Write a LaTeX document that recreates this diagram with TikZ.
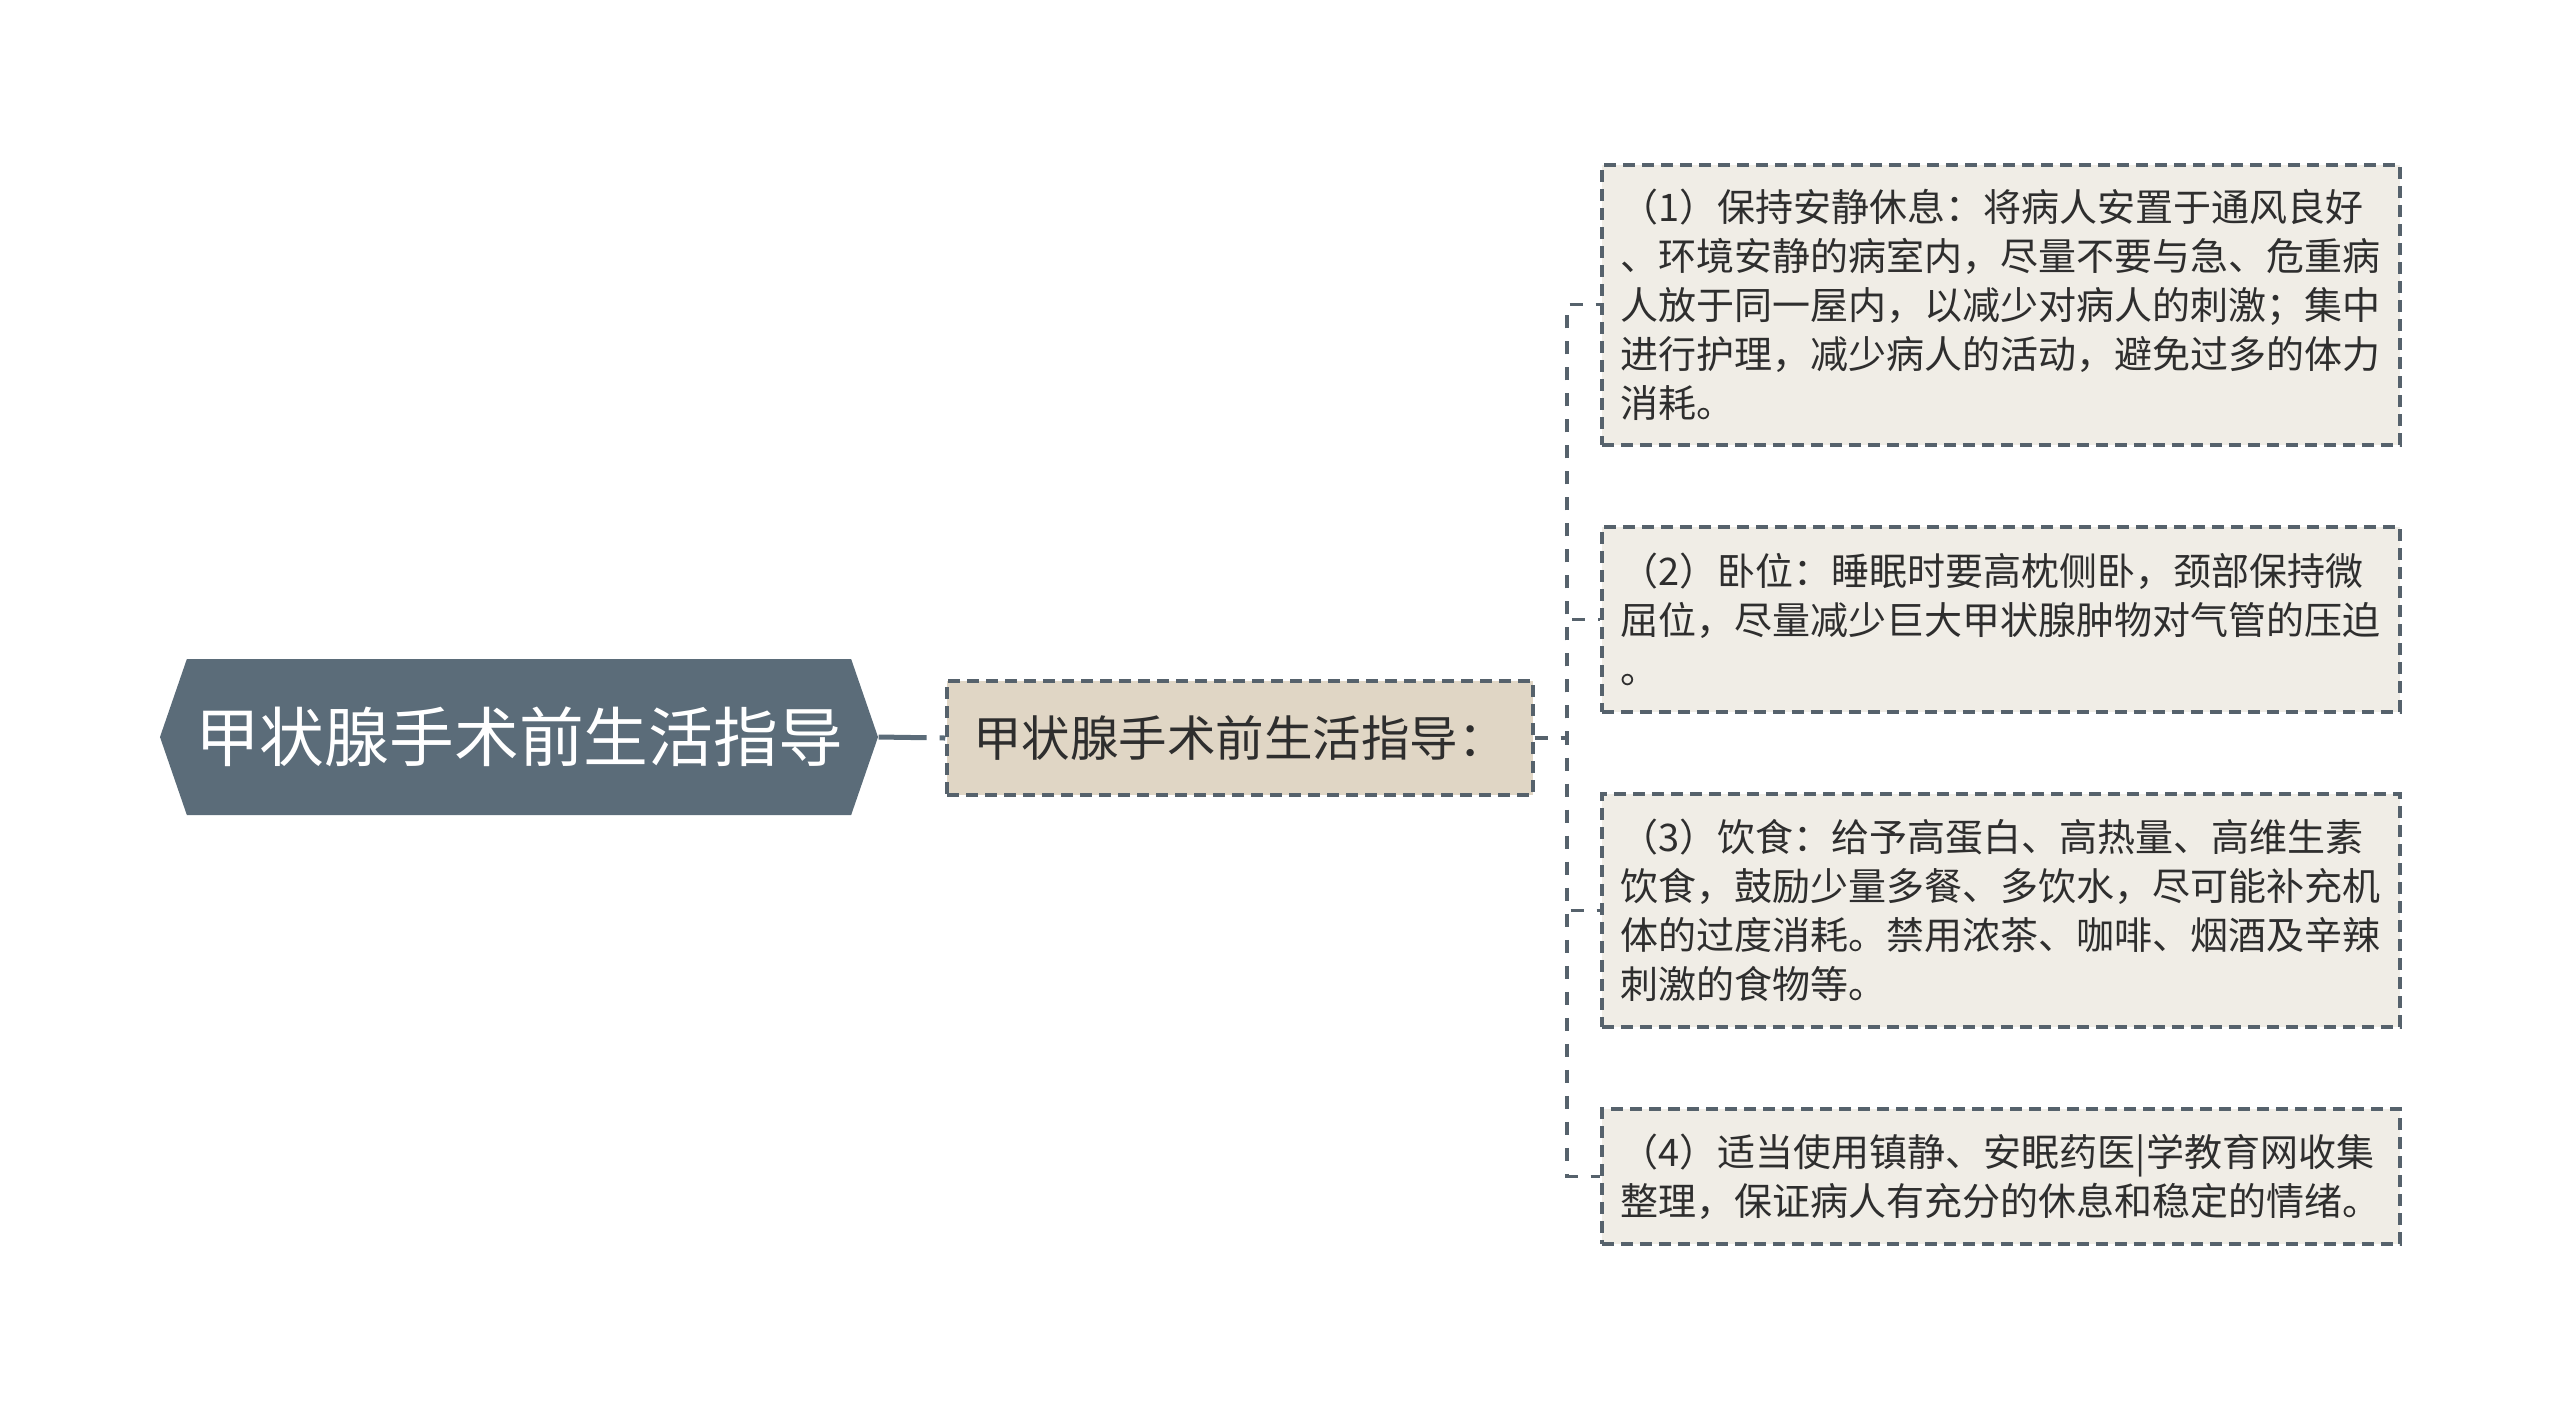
\documentclass[tikz,border=0pt]{standalone}
\usepackage{fontspec}
\setmainfont{Noto Sans CJK SC}
\usetikzlibrary{shapes.symbols}
\usetikzlibrary{positioning}
\definecolor{rootfill}{HTML}{5B6C79}
\definecolor{subfill}{HTML}{E0D6C5}
\definecolor{leaffill}{HTML}{F0EDE6}
\definecolor{edgecol}{HTML}{56626C}
\definecolor{txtcol}{HTML}{2E2E2E}

\begin{document}
\begin{tikzpicture}[x=0.4pt, y=-0.4pt,
    rootbox/.style={signal, signal to=west and east, signal pointer angle=142, fill=rootfill, text=white, minimum width=287.2pt, minimum height=62.4pt, inner sep=0pt, font=\fontsize{25.9pt}{30pt}\selectfont},
    subbox/.style={draw=edgecol, line width=1.4pt, dash pattern=on 4.8pt off 2.8pt, fill=subfill, text=txtcol, minimum width=234.4pt, minimum height=45.6pt, font=\fontsize{19.4pt}{23pt}\selectfont},
    leafbox/.style={draw=edgecol, line width=1.4pt, dash pattern=on 4.8pt off 2.8pt, fill=leaffill, text=txtcol, anchor=north west, text width=304pt, inner xsep=7.6pt, inner ysep=0pt, align=left, font=\fontsize{15.2pt}{19.6pt}\selectfont},
    link/.style={draw=edgecol, line width=1.3pt, dash pattern=on 5.2pt off 5.2pt},
    rootlink/.style={draw=rootfill, line width=2pt, dash pattern=on 19.2pt off 5.2pt}]
    \useasboundingbox (0,0) rectangle (2560,1402);
    \node[rootbox] (root) at (519,737) {甲状腺手术前生活指导};
    \node[subbox] (sub) at (1240,738) {甲状腺手术前生活指导：};
    \node[leafbox, minimum height=112pt] (b1) at (1600,163) {（1）保持安静休息：将病人安置于通风良好\\、环境安静的病室内，尽量不要与急、危重病\\人放于同一屋内，以减少对病人的刺激；集中\\进行护理，减少病人的活动，避免过多的体力\\消耗。};
    \node[leafbox, minimum height=74pt] (b2) at (1600,525) {（2）卧位：睡眠时要高枕侧卧，颈部保持微\\屈位，尽量减少巨大甲状腺肿物对气管的压迫\\。};
    \node[leafbox, minimum height=93.2pt] (b3) at (1600,792) {（3）饮食：给予高蛋白、高热量、高维生素\\饮食，鼓励少量多餐、多饮水，尽可能补充机\\体的过度消耗。禁用浓茶、咖啡、烟酒及辛辣\\刺激的食物等。};
    \node[leafbox, minimum height=54pt] (b4) at (1600,1107) {（4）适当使用镇静、安眠药医|学教育网收集\\整理，保证病人有充分的休息和稳定的情绪。};
    \coordinate (jn) at (1567,738);
    \draw[rootlink] (root.east) -- (sub.west);
    \draw[link] (sub.east) -- (jn) |- (b1.west);
    \draw[link] (sub.east) -- (jn) |- (b2.west);
    \draw[link] (sub.east) -- (jn) |- (b3.west);
    \draw[link] (sub.east) -- (jn) |- (b4.west);
\end{tikzpicture}
\end{document}
